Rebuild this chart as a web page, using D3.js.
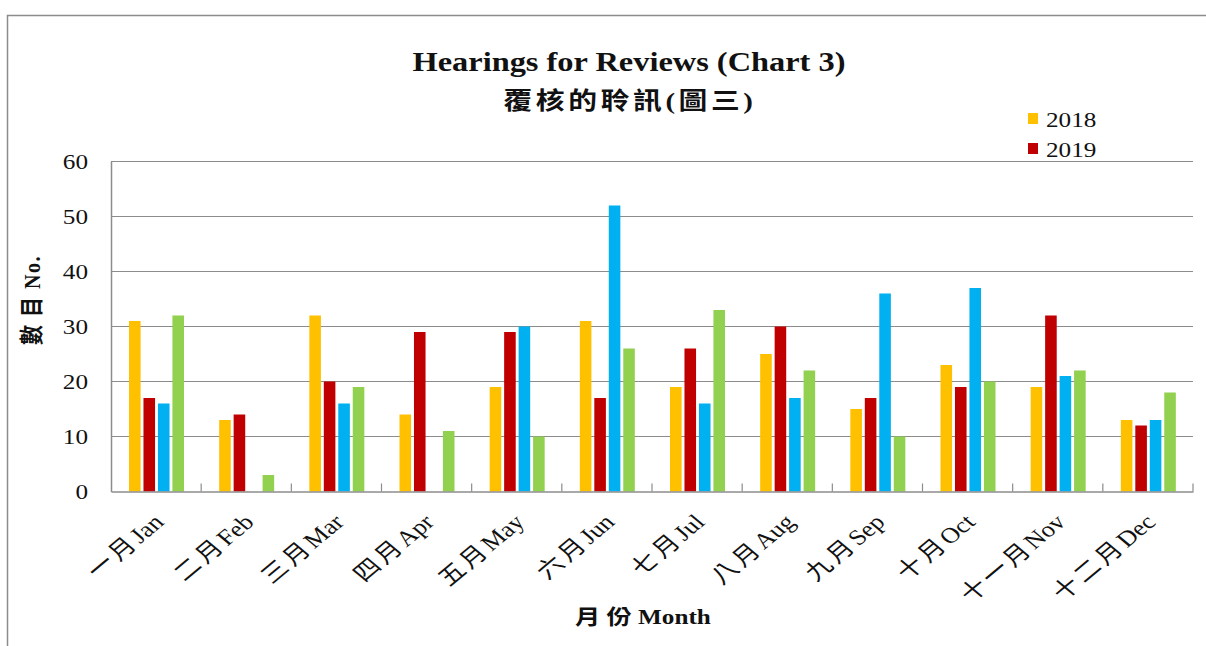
<!DOCTYPE html>
<html>
<head>
<meta charset="utf-8">
<script src="https://cdn.jsdelivr.net/npm/d3@7"></script>
<style>
	body { margin: 0; background: #fff; }
	svg { display: block; }
</style>
</head>
<body>
<script>
'use strict';

// Months on the category axis
const monthsZh = ["一月", "二月", "三月", "四月", "五月", "六月",
	"七月", "八月", "九月", "十月", "十一月", "十二月"];
const monthsEn = ["Jan", "Feb", "Mar", "Apr", "May", "Jun",
	"Jul", "Aug", "Sep", "Oct", "Nov", "Dec"];

// Series (only 2018 and 2019 are named in the legend)
const seriesNames = ["2018", "2019", "2020", "2021"];
const values2018 = [31, 13, 32, 14, 19, 31, 19, 25, 15, 23, 19, 13];
const values2019 = [17, 14, 20, 29, 29, 17, 26, 30, 17, 19, 32, 12];
const values2020 = [16, 0, 16, 0, 30, 52, 16, 17, 36, 37, 21, 13];
const values2021 = [32, 3, 19, 11, 10, 26, 33, 22, 10, 20, 22, 18];
const legendNames = ["2018", "2019"];
const yTicks = [0, 10, 20, 30, 40, 50, 60];

const colors = ["#FFC000", "#C00000", "#00B0F0", "#92D050"];
const allValues = [values2018, values2019, values2020, values2021];
const months = monthsZh.map((m, i) => m + monthsEn[i]);

const params = { width: 1206, height: 646, left: 111, right: 1193, top: 161.5, bottom: 491.5 };
// the source picture is stretched sideways, so text is too
const stretch = "scale(1.2,1)";

const serif = "'Liberation Serif', 'Times New Roman', serif";
const cjkSerif = "'Liberation Serif', 'Noto Sans CJK TC', serif";

const svg = d3.select("body").append("svg")
	.attr("width", params.width)
	.attr("height", params.height)

// put a text at (x, y) with the sideways stretch
const addText = (x, y, str, opts) => {
	const t = svg.append("g")
		.attr("transform", `translate(${x},${y}) ${stretch}${opts.rotate ? ` rotate(${opts.rotate})` : ""}`)
		.append("text")
		.attr("text-anchor", opts.anchor || "middle")
		.attr("font-family", opts.family || serif)
		.attr("font-size", opts.size)
		.attr("font-weight", opts.weight || "normal")
		.attr("fill", "#111")
	if (opts.spacing) t.attr("letter-spacing", opts.spacing)
	t.text(str)
	return t;
}

// outer chart frame (only top and left edges are visible)
svg.append("path")
	.attr("d", `M7.5,${params.height} V15.5 H${params.width}`)
	.attr("fill", "none")
	.attr("stroke", "#8c8c8c")
	.attr("stroke-width", 1.5)

const x0 = d3.scaleBand()
	.domain(months)
	.range([params.left, params.right])

const x1 = d3.scaleBand()
	.domain(seriesNames)
	.range([18, 73])
	.paddingInner(0.2)

const y = d3.scaleLinear()
	.domain([0, 60])
	.range([params.bottom, params.top])

// gridlines
svg.append("g")
	.selectAll("line")
	.data(yTicks.slice(1))
	.join("line")
	.attr("x1", params.left)
	.attr("x2", params.right)
	.attr("y1", d => y(d))
	.attr("y2", d => y(d))
	.attr("stroke", "#8c8c8c")
	.attr("stroke-width", 1)

// bars
const groups = svg.append("g")
	.selectAll("g")
	.data(months)
	.join("g")
	.attr("transform", d => `translate(${x0(d)},0)`)

groups.selectAll("rect")
	.data((m, i) => seriesNames.map((s, k) => ({ s: s, k: k, v: allValues[k][i] })))
	.join("rect")
	.attr("x", d => x1(d.s))
	.attr("width", x1.bandwidth())
	.attr("y", d => y(d.v))
	.attr("height", d => y(0) - y(d.v))
	.attr("fill", d => colors[d.k])

// y axis line and labels
const yAxis = svg.append("g")
	.attr("transform", `translate(${params.left},0)`)
	.call(d3.axisLeft(y).tickValues(yTicks).tickSize(0).tickFormat(""))
yAxis.select(".domain").attr("stroke", "#8c8c8c").attr("stroke-width", 1.5)

yTicks.forEach(v => {
	addText(88, y(v) + 7, v, { size: 21, anchor: "end" })
})

// x axis: baseline, inside ticks at category boundaries
const xAxis = svg.append("g")
	.attr("transform", `translate(0,${params.bottom})`)
	.call(d3.axisBottom(x0).tickSize(0).tickFormat(""))
xAxis.select(".domain").attr("stroke", "#8c8c8c").attr("stroke-width", 1.5)

svg.append("g")
	.selectAll("line")
	.data(months)
	.join("line")
	.attr("x1", d => x0(d) + x0.bandwidth())
	.attr("x2", d => x0(d) + x0.bandwidth())
	.attr("y1", params.bottom)
	.attr("y2", params.bottom - 8)
	.attr("stroke", "#8c8c8c")
	.attr("stroke-width", 1.2)

months.forEach((m, i) => {
	const t = addText(x0(m) + x0.bandwidth() / 2 + 9, params.bottom + 32, "",
		{ size: 22, anchor: "end", family: cjkSerif, rotate: -45 })
	t.append("tspan").attr("letter-spacing", 3).text(monthsZh[i])
	t.append("tspan").text(monthsEn[i])
})

// axis titles
addText(40, 300, "數 目 No.", { size: 20, weight: "bold", family: cjkSerif, rotate: -90, spacing: 1.5 })
addText(643, 624, "月 份 Month", { size: 21, weight: "bold", family: cjkSerif })

// title
addText(629, 71, "Hearings for Reviews (Chart 3)", { size: 27, weight: "bold" })
addText(630, 109, "覆核的聆訊(圖三)", { size: 24, weight: "bold", family: cjkSerif, spacing: 3 })

// legend
const legend = svg.append("g")
	.selectAll("g")
	.data(legendNames)
	.join("g")
	.attr("transform", (d, i) => `translate(1028,${113 + i * 30})`)

legend.append("rect")
	.attr("width", 10)
	.attr("height", 11)
	.attr("fill", (d, i) => colors[i])

legendNames.forEach((d, i) => {
	addText(1046, 127 + i * 30, d, { size: 21, anchor: "start" })
})
</script>
</body>
</html>
